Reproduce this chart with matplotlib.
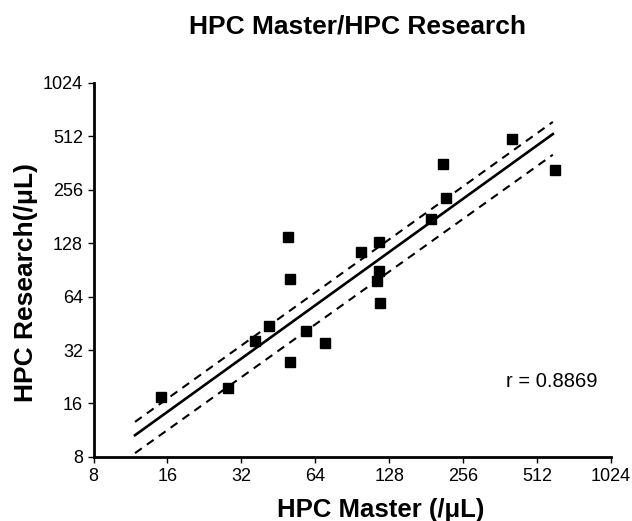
import matplotlib
matplotlib.use("Agg")
import matplotlib.pyplot as plt

plt.rcParams['font.family'] = ['Liberation Sans', 'DejaVu Sans']

# 数据：HPC Master 与 HPC Research 计数 (/μL)
hpc_master = [15.1, 28.3, 36.4, 41.5, 49.6, 50.4, 50.4, 58.8, 69.8, 97.9,
              116, 116.3, 113.8, 117.5, 189, 218.6, 211.7, 405, 607]
hpc_research = [17.4, 19.5, 36.1, 43.9, 139.5, 80.2, 27.3, 41, 35.2, 114.3,
                130, 89.7, 78.4, 58.7, 174, 230.6, 357, 492, 329]

# 回归线及置信带（从图中读取端点）
fit_x = [11.8, 593]
fit_y = [10.6, 527]
upper_y = [12.6, 617]
lower_y = [8.4, 403]

ticks = [8, 16, 32, 64, 128, 256, 512, 1024]
tick_labels = [str(t) for t in ticks]
r_value = 0.8869

fig = plt.figure(figsize=(6.32, 5.21), dpi=100)
ax = fig.add_axes([0.148, 0.123, 0.819, 0.718])

ax.plot(hpc_master, hpc_research, 's', color='black', markersize=7, zorder=3)
ax.plot(fit_x, fit_y, '-', color='black', linewidth=1.9)
ax.plot(fit_x, upper_y, color='black', linewidth=1.5, dashes=(4, 3))
ax.plot(fit_x, lower_y, color='black', linewidth=1.5, dashes=(4, 3))

ax.set_xscale('log', base=2)
ax.set_yscale('log', base=2)
ax.set_xlim(8, 1024)
ax.set_ylim(8, 1024)
ax.set_xticks(ticks)
ax.set_xticklabels(tick_labels)
ax.set_yticks(ticks)
ax.set_yticklabels(tick_labels)
ax.minorticks_off()
ax.tick_params(labelsize=13, length=4.5, width=1, direction='out')
ax.tick_params(axis='x', pad=3.5)
ax.tick_params(axis='y', pad=3)

for side in ['top', 'right']:
    ax.spines[side].set_visible(False)
for side in ['left', 'bottom']:
    ax.spines[side].set_linewidth(2)

# 标题与坐标轴标签（位置按原图放置）
fig.text(0.566, 0.9495, 'HPC Master/HPC Research', fontsize=19, fontweight='bold',
         ha='center', va='center')
fig.text(0.603, 0.008, 'HPC Master (/μL)', fontsize=18.5, fontweight='bold',
         ha='center', va='baseline')
fig.text(0.053, 0.458, 'HPC Research(/μL)', fontsize=19, fontweight='bold',
         ha='center', va='baseline', rotation=90, rotation_mode='anchor')

fig.text(0.946, 0.258, f'r = {r_value}', fontsize=14.5,
         ha='right', va='baseline')

plt.savefig('out.png', dpi=100)
